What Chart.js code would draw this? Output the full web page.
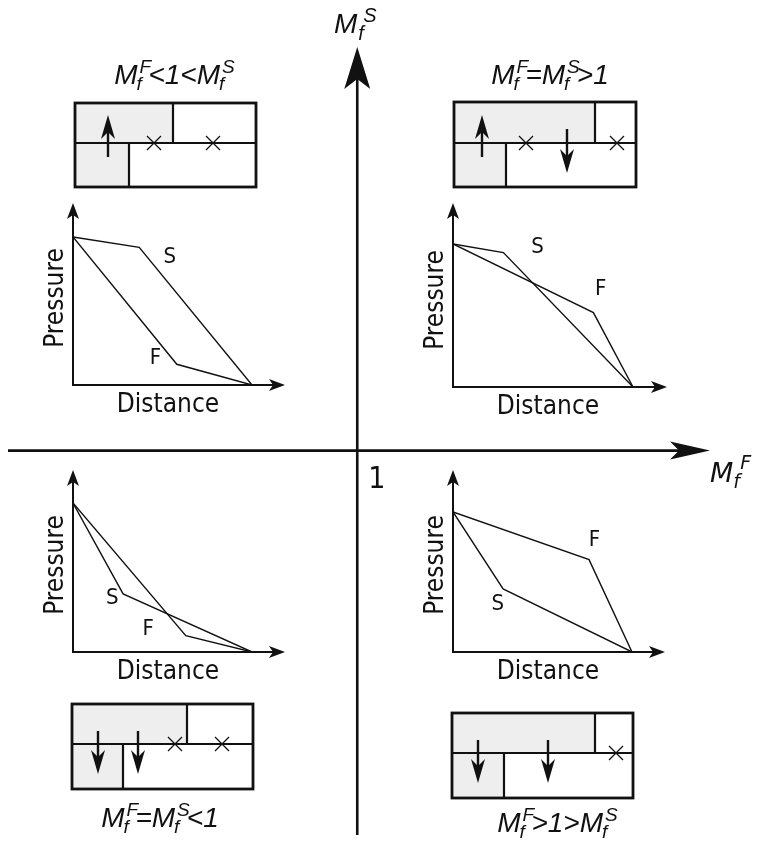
<!DOCTYPE html>
<html>
<head>
<meta charset="utf-8">
<script src="https://cdn.jsdelivr.net/npm/chart.js@4.4.0/dist/chart.umd.min.js"></script>
<style>
  html, body { margin: 0; padding: 0; background: #fff; }
  #wrap { position: relative; width: 762px; height: 842px; overflow: hidden; }
  #wrap canvas { position: absolute; }
</style>
</head>
<body>
<div id="wrap"><canvas id="mainChart" width="762" height="842"></canvas></div>
<script>
// pressure profiles as [distance, pressure], both normalised (inlet pressure = 1, length = 1)
const tlS = [[0, 1], [0.37, 0.93], [1, 0]];
const tlF = [[0, 1], [0.58, 0.14], [1, 0]];
const trS = [[0, 1], [0.28, 0.94], [1, 0]];
const trF = [[0, 1], [0.78, 0.52], [1, 0]];
const blS = [[0, 1], [0.28, 0.39], [1, 0]];
const blF = [[0, 1], [0.63, 0.11], [1, 0]];
const brS = [[0, 1], [0.28, 0.45], [1, 0]];
const brF = [[0, 1], [0.76, 0.66], [1, 0]];

// quadrant titles (M_f^F vs M_f^S)
const titles = ['M_f^F<1<M_f^S', 'M_f^F=M_f^S>1', 'M_f^F=M_f^S<1', 'M_f^F>1>M_f^S'];
const crossTick = '1';

const INK = '#111';
const GREY = '#eeeeee';
const COND = '"DejaVu Sans Condensed", "DejaVu Sans", sans-serif';
const ITAL = '"Liberation Sans", Arial, sans-serif';

// where each little pressure plot sits (origin, unit lengths, arrow tips)
const plotLayout = [
  { ox: 73,  oy: 385, ux: 179, uy: 148, tx: 285, ty: 203, s: [0.54, 0.86], f: [0.46, 0.18] },
  { ox: 453, oy: 387, ux: 180, uy: 143, tx: 667, ty: 203, s: [0.47, 0.98], f: [0.82, 0.68] },
  { ox: 73,  oy: 652, ux: 179, uy: 149, tx: 285, ty: 470, s: [0.22, 0.36], f: [0.42, 0.15] },
  { ox: 453, oy: 652, ux: 179, uy: 140, tx: 665, ty: 470, s: [0.25, 0.34], f: [0.79, 0.80] }
];

// schematic boxes: outer rect, middle line, dividers, arrows and crosses
const boxLayout = [
  { x: 75, y: 103, w: 181, h: 84, mid: 143, topDiv: 173, botDiv: 129,
    arrows: [[108, 157, 115]], crosses: [154, 213], title: [173, 84] },
  { x: 454, y: 102, w: 182, h: 85, mid: 143, topDiv: 595, botDiv: 506,
    arrows: [[482, 157, 115], [567, 129, 173]], crosses: [526, 617], title: [550, 84] },
  { x: 72, y: 704, w: 181, h: 85, mid: 744, topDiv: 187, botDiv: 123,
    arrows: [[98, 731, 774], [138, 731, 774]], crosses: [175, 222], title: [160, 827] },
  { x: 452, y: 713, w: 181, h: 85, mid: 753, topDiv: 595, botDiv: 504,
    arrows: [[478, 740, 783], [548, 740, 783]], crosses: [616], title: [556, 832] }
];

function arrowHead(ctx, tx, ty, dx, dy, len, half, notch) {
  const bx = tx - dx * len, by = ty - dy * len;
  const px = -dy, py = dx;
  ctx.beginPath();
  ctx.moveTo(tx, ty);
  ctx.lineTo(bx + px * half, by + py * half);
  ctx.lineTo(tx - dx * (len - notch), ty - dy * (len - notch));
  ctx.lineTo(bx - px * half, by - py * half);
  ctx.closePath();
  ctx.fill();
}

function arrow(ctx, x0, y0, x1, y1, lw, len, half, notch) {
  const d = Math.hypot(x1 - x0, y1 - y0);
  const dx = (x1 - x0) / d, dy = (y1 - y0) / d;
  ctx.lineWidth = lw;
  ctx.beginPath();
  ctx.moveTo(x0, y0);
  ctx.lineTo(x1 - dx * (len - notch), y1 - dy * (len - notch));
  ctx.stroke();
  arrowHead(ctx, x1, y1, dx, dy, len, half, notch);
}

// draws things like "M_f^F<1<M_f^S" : base letter with stacked sub/superscript
function drawMath(ctx, text, x, y, o) {
  const toks = [];
  for (let i = 0; i < text.length;) {
    if (text[i + 1] === '_') { toks.push({ b: text[i], sub: text[i + 2], sup: text[i + 4] }); i += 5; }
    else { toks.push({ b: text[i] }); i++; }
  }
  const big = o.style + ' ' + o.big + 'px ' + o.family;
  const small = o.style + ' ' + o.small + 'px ' + o.family;
  let total = 0;
  toks.forEach(t => {
    ctx.font = big;
    t.w = ctx.measureText(t.b).width;
    if (t.sub) {
      ctx.font = small;
      t.sw = Math.max(ctx.measureText(t.sub).width + o.subDx, ctx.measureText(t.sup).width + o.supDx) * o.adv;
    } else t.sw = 0;
    total += t.w + t.sw;
  });
  let cx = o.align === 'center' ? x - total / 2 : x;
  ctx.fillStyle = INK;
  ctx.textBaseline = 'alphabetic';
  ctx.textAlign = 'left';
  toks.forEach(t => {
    ctx.font = big;
    ctx.fillText(t.b, cx, y);
    if (t.sub) {
      ctx.font = small;
      ctx.fillText(t.sub, cx + t.w + o.subDx, y + o.subDy);
      ctx.fillText(t.sup, cx + t.w + o.supDx, y + o.supDy);
    }
    cx += t.w + t.sw;
  });
}

const titleStyle = { style: 'italic', family: ITAL, big: 28, small: 19, subDx: -1, supDx: 2,
  subDy: 6, supDy: -11, adv: 0.8, align: 'center' };

const mainDecor = {
  id: 'mainDecor',
  afterDraw(chart) {
    const ctx = chart.ctx;
    const a = chart.chartArea;
    const cx = chart.scales.x.getPixelForValue(1);
    const cy = chart.scales.y.getPixelForValue(1);
    ctx.save();
    ctx.strokeStyle = INK;
    ctx.fillStyle = INK;
    arrow(ctx, a.left, cy, a.right, cy, 2.6, 40, 9, 9);
    arrow(ctx, cx, a.bottom, cx, a.top, 2.6, 42, 13, 10);

    ctx.font = '30px ' + COND;
    ctx.textAlign = 'left';
    ctx.fillText(crossTick, cx + 11, cy + 37);

    drawMath(ctx, 'M_f^S', 334, 33, { style: 'italic', family: ITAL, big: 28, small: 20,
      subDx: 1, supDx: 6, subDy: 7, supDy: -11, adv: 1, align: 'left' });
    drawMath(ctx, 'M_f^F', 710, 482, { style: 'oblique', family: '"DejaVu Sans", sans-serif', big: 27, small: 19,
      subDx: 0, supDx: 7, subDy: 6, supDy: -13, adv: 1, align: 'left' });

    boxLayout.forEach((b, i) => {
      ctx.fillStyle = GREY;
      ctx.fillRect(b.x, b.y, b.topDiv - b.x, b.mid - b.y);
      ctx.fillRect(b.x, b.mid, b.botDiv - b.x, b.y + b.h - b.mid);
      ctx.strokeStyle = INK;
      ctx.fillStyle = INK;
      ctx.lineWidth = 2.2;
      ctx.beginPath();
      ctx.moveTo(b.x, b.mid); ctx.lineTo(b.x + b.w, b.mid);
      ctx.moveTo(b.topDiv, b.y); ctx.lineTo(b.topDiv, b.mid);
      ctx.moveTo(b.botDiv, b.mid); ctx.lineTo(b.botDiv, b.y + b.h);
      ctx.stroke();
      ctx.lineWidth = 2.8;
      ctx.strokeRect(b.x, b.y, b.w, b.h);
      ctx.lineWidth = 1.3;
      b.crosses.forEach(x => {
        ctx.beginPath();
        ctx.moveTo(x - 7, b.mid - 7); ctx.lineTo(x + 7, b.mid + 7);
        ctx.moveTo(x + 7, b.mid - 7); ctx.lineTo(x - 7, b.mid + 7);
        ctx.stroke();
      });
      b.arrows.forEach(r => arrow(ctx, r[0], r[1], r[0], r[2], 2.4, 24, 7, 7));
      drawMath(ctx, titles[i], b.title[0], b.title[1], titleStyle);
    });
    ctx.restore();
  }
};

new Chart(document.getElementById('mainChart'), {
  type: 'scatter',
  data: { datasets: [] },
  options: {
    responsive: false,
    animation: false,
    layout: { padding: { left: 8, right: 52, top: 47, bottom: 7 } },
    plugins: { legend: { display: false }, tooltip: { enabled: false } },
    scales: {
      x: { type: 'linear', min: 0, max: 2.01, display: false },
      y: { type: 'linear', min: 0, max: 2.05, display: false }
    }
  },
  plugins: [mainDecor]
});

const plotDecor = {
  id: 'plotDecor',
  afterDraw(chart) {
    const ctx = chart.ctx;
    const a = chart.chartArea;
    const L = chart.options.plugins.plotDecor;
    const xs = chart.scales.x, ys = chart.scales.y;
    ctx.save();
    ctx.strokeStyle = INK;
    ctx.fillStyle = INK;
    arrow(ctx, a.left - 1, a.bottom, a.right, a.bottom, 2, 16, 6, 4);
    arrow(ctx, a.left, a.bottom + 1, a.left, a.top, 2, 16, 6, 4);

    ctx.font = '26px ' + COND;
    ctx.textAlign = 'center';
    ctx.textBaseline = 'alphabetic';
    ctx.fillText('Distance', a.left + 95, a.bottom + 27);
    ctx.save();
    ctx.translate(a.left - 10, a.bottom - 87);
    ctx.rotate(-Math.PI / 2);
    ctx.fillText('Pressure', 0, 0);
    ctx.restore();

    ctx.font = '22px ' + COND;
    ctx.textBaseline = 'middle';
    ctx.fillText('S', xs.getPixelForValue(L.s[0]), ys.getPixelForValue(L.s[1]));
    ctx.fillText('F', xs.getPixelForValue(L.f[0]), ys.getPixelForValue(L.f[1]));
    ctx.restore();
  }
};

function makePlot(p, sData, fData) {
  const left = p.ox - 48, top = p.ty - 4;
  const w = p.tx + 6 - left, h = p.oy + 34 - top;
  const cv = document.createElement('canvas');
  cv.width = w; cv.height = h;
  cv.style.left = left + 'px';
  cv.style.top = top + 'px';
  document.getElementById('wrap').appendChild(cv);
  const line = (label, d) => ({
    label: label,
    data: d.map(v => ({ x: v[0], y: v[1] })),
    borderColor: INK,
    borderWidth: 1.4,
    pointRadius: 0,
    tension: 0,
    fill: false
  });
  new Chart(cv, {
    type: 'line',
    data: { datasets: [line('S', sData), line('F', fData)] },
    options: {
      responsive: false,
      animation: false,
      layout: { padding: { left: 48, right: 6, top: 4, bottom: 34 } },
      plugins: { legend: { display: false }, tooltip: { enabled: false }, plotDecor: p },
      scales: {
        x: { type: 'linear', min: 0, max: (p.tx - p.ox) / p.ux, display: false },
        y: { type: 'linear', min: 0, max: (p.oy - p.ty) / p.uy, display: false }
      }
    },
    plugins: [plotDecor]
  });
}

makePlot(plotLayout[0], tlS, tlF);
makePlot(plotLayout[1], trS, trF);
makePlot(plotLayout[2], blS, blF);
makePlot(plotLayout[3], brS, brF);
</script>
</body>
</html>
